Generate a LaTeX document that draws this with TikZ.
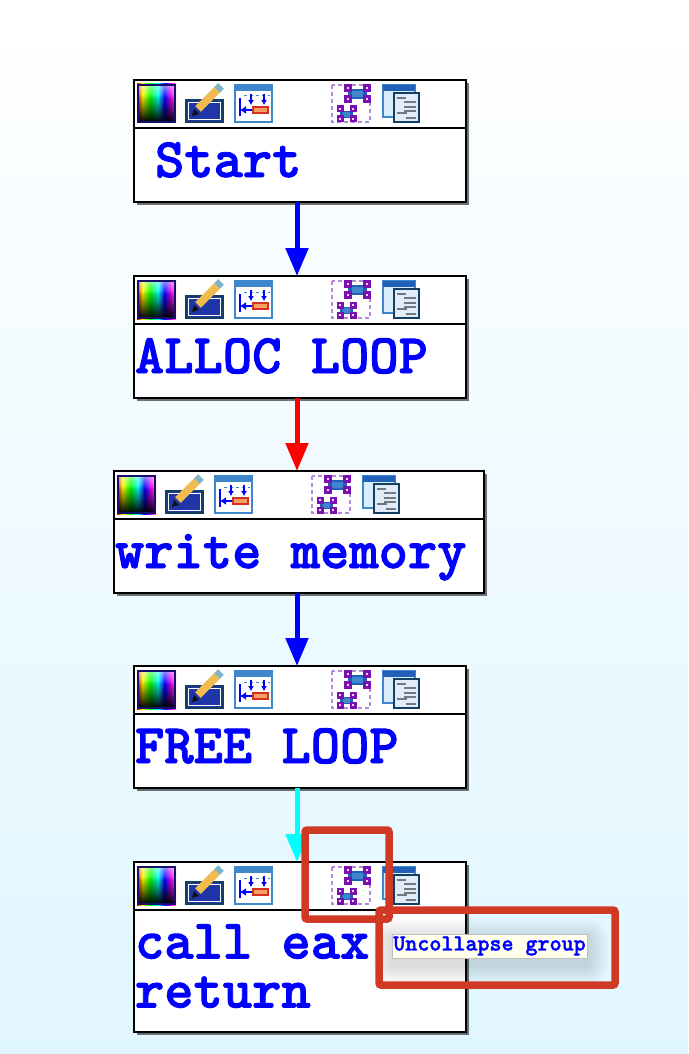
\documentclass[tikz,border=0pt]{standalone}
\usepackage{fontspec}
\newfontfamily\boxfont{lmmonolt10-bold.otf}[FakeBold=1.6]
\usepackage{xcolor}
\usetikzlibrary{arrows.meta,shadows,fadings}
\definecolor{pureCyan}{RGB}{0,255,255}
\definecolor{pureMagenta}{RGB}{255,0,255}
\pgfdeclarehorizontalshading{palette}{100bp}{color(0bp)=(red!90!black); color(25bp)=(red!90!black); color(32bp)=(yellow); color(42bp)=(green); color(52bp)=(pureCyan); color(60bp)=(blue); color(69bp)=(pureMagenta); color(75bp)=(red!40!white); color(100bp)=(red!40!white)}
\tikzset{
  toolbar/.pic={
    % colour choice
    \shade[shading=palette] (3,4) rectangle (42,43);
    \fill[black, path fading=north] (4,14) rectangle (41,42);
    \fill[white, opacity=.55, path fading=south] (4,5) rectangle (41,18);
    \draw[draw=icNavy, line width=2.4pt] (4,5) rectangle (41,42);
    % rename
    \draw[draw=icTeal, fill=icBlue, line width=2.4pt] (52,20) rectangle (89,42);
    \draw[draw=white, line width=1pt] (54.5,22.5) rectangle (86.5,39.5);
    \draw[line width=8pt, draw=icPencil] (64,29) -- (83,10);
    \draw[line width=8pt, draw=icSteel] (83,10) -- (87,6);
    \fill[icBlack] (58,36) -- (60,29) -- (65,34) -- cycle;
    % xrefs
    \draw[draw=icFrame, fill=white, line width=2.4pt] (101,5) rectangle (138,42);
    \fill[icFrame] (101,5) rectangle (138,11);
    \draw[draw=icFrame, line width=1pt, dashed] (110,16) -- (136,16);
    \draw[-{Latex[length=5pt,width=6pt]}, draw=blue, line width=1.4pt] (117,14) -- (117,25);
    \draw[-{Latex[length=5pt,width=6pt]}, draw=blue, line width=1.4pt] (130,14) -- (130,25);
    \draw[draw=blue, line width=1.4pt] (106,18) -- (106,36);
    \draw[-{Latex[length=6pt,width=8pt]}, draw=blue, line width=2pt] (119,30) -- (106,30);
    \draw[draw=icRed, fill=icOrange, line width=1.4pt] (119,27) rectangle (134,33);
    % group
    \draw[draw=icLilac, line width=1.2pt, dash pattern=on 4pt off 3pt] (198,5) rectangle (236,42);
    \fill[icDeep] (214,9) rectangle (233,19);
    \fill[icFrame] (218,11) rectangle (229,17);
    \fill[icDeep] (206,31) rectangle (219,38);
    \fill[icFrame] (209,32) rectangle (216,37);
    \foreach \cx/\cy/\hs in {214/8/4,233/8/4,214/19/4,233/19/4,206/29/3.5,219/29/3.5,206/39/3.5,219/39/3.5}{
      \draw[draw=icPurple, fill=icPink, line width=2.6pt] (\cx-\hs+1.3,\cy-\hs+1.3) rectangle (\cx+\hs-1.3,\cy+\hs-1.3);
    }
    % text view
    \draw[draw=icFrame, fill=icPale, line width=2pt] (249,5) rectangle (281,37);
    \fill[icDeep] (249,5) rectangle (281,11);
    \draw[draw=icTeal, fill=icPaper, line width=2.4pt] (260,13) rectangle (285,42);
    \foreach \ya/\xa/\xb in {18/263/272,22/270/282,27/270/282,31/270/282,33/263/273,38/272/282}{
      \draw[draw=icGrey, line width=1.6pt] (\xa,\ya) -- (\xb,\ya);
    }
  }
}
\begin{document}
\begin{tikzpicture}[
  x=1pt, y=-1pt,
  >=Latex,
  hd/.style={draw=black, fill=white, line width=2pt, outer sep=0pt, minimum height=48pt, minimum width=#1, drop shadow={shadow xshift=3pt, shadow yshift=-3pt, fill=black, opacity=.55}},
  bd/.style={draw=black, fill=white, line width=2pt, outer sep=0pt, inner xsep=1pt, inner ysep=0pt, minimum height=74pt, text width=#1-2pt, align=flush left, text=blue, font=\boxfont\fontsize{55.8}{49}\selectfont, text height=37pt, text depth=13pt, drop shadow={shadow xshift=3pt, shadow yshift=-3pt, fill=black, opacity=.55}},
  arr/.style={-{Triangle[length=28pt,width=22pt]}, line width=5pt, draw=#1},
  mark box/.style={draw=markRed, line width=7.5pt, rounded corners=2pt},
  tip/.style={draw=black!25, fill=tipIvory, line width=1pt, outer sep=0pt, inner sep=0pt, minimum width=195pt, minimum height=24pt, text=blue, font=\boxfont\fontsize{22.9}{24}\selectfont},
]
\definecolor{bgLow}{HTML}{E0F6FF}
\definecolor{bgMid}{HTML}{EDFAFF}
\definecolor{markRed}{HTML}{D03A25}
\definecolor{tipIvory}{HTML}{FFFFEC}
\definecolor{icNavy}{HTML}{12106A}
\definecolor{icTeal}{HTML}{123F63}
\definecolor{icBlue}{HTML}{1F35A8}
\definecolor{icPencil}{HTML}{F0BC50}
\definecolor{icSteel}{HTML}{7FB4C8}
\definecolor{icBlack}{HTML}{101010}
\definecolor{icFrame}{HTML}{3F86CC}
\definecolor{icDeep}{HTML}{2060B8}
\definecolor{icRed}{HTML}{D83020}
\definecolor{icOrange}{HTML}{F4A060}
\definecolor{icLilac}{HTML}{B48AD8}
\definecolor{icPurple}{HTML}{7A10B0}
\definecolor{icPink}{HTML}{F0D8F8}
\definecolor{icPale}{HTML}{D8ECFA}
\definecolor{icPaper}{HTML}{E2ECF8}
\definecolor{icGrey}{HTML}{707880}

\shade[top color=white, middle color=bgMid, bottom color=bgLow] (0,0) rectangle (688,1054);

\node[hd=332pt] (starthd) at (300,104) {};
\node[bd=332pt] (startbd) at (300,165) {\hspace*{20pt}Start};
\node[hd=332pt] (allochd) at (300,300) {};
\node[bd=332pt] (allocbd) at (300,361) {ALLOC LOOP};
\node[hd=370pt] (writehd) at (299,495) {};
\node[bd=370pt] (writebd) at (299,556) {write memory};
\node[hd=332pt] (freehd) at (300,690) {};
\node[bd=332pt] (freebd) at (300,751) {FREE LOOP};
\node[hd=332pt] (callhd) at (300,886) {};
\node[bd=332pt, minimum height=122pt, text height=37pt, text depth=62pt] (callbd) at (300,971) {call eax\\return};

\pic at (starthd.north west) {toolbar};
\pic at (allochd.north west) {toolbar};
\pic at (writehd.north west) {toolbar};
\pic at (freehd.north west) {toolbar};
\pic at (callhd.north west) {toolbar};

\draw[arr=blue] ([xshift=-3pt]startbd.south) -- ([xshift=-3pt]allochd.north);
\draw[arr=red] ([xshift=-3pt]allocbd.south) -- ([xshift=-2pt]writehd.north);
\draw[arr=blue] ([xshift=-2pt]writebd.south) -- ([xshift=-3pt]freehd.north);
\draw[arr=pureCyan] ([xshift=-3pt]freebd.south) -- ([xshift=-3pt]callhd.north);

\foreach \gl in {3,6,...,21}{
  \fill[black, opacity=.018, rounded corners=\gl pt] (392-\gl,940-\gl) rectangle (587+\gl,964+\gl);
}
\node[tip] (tooltip) at (489.5,946) {Uncollapse group};

\node[mark box, minimum width=84pt, minimum height=89pt] (markicon) at (347,874.5) {};
\node[mark box, minimum width=236pt, minimum height=75pt] (marktip) at (497,947.5) {};
\end{tikzpicture}
\end{document}
